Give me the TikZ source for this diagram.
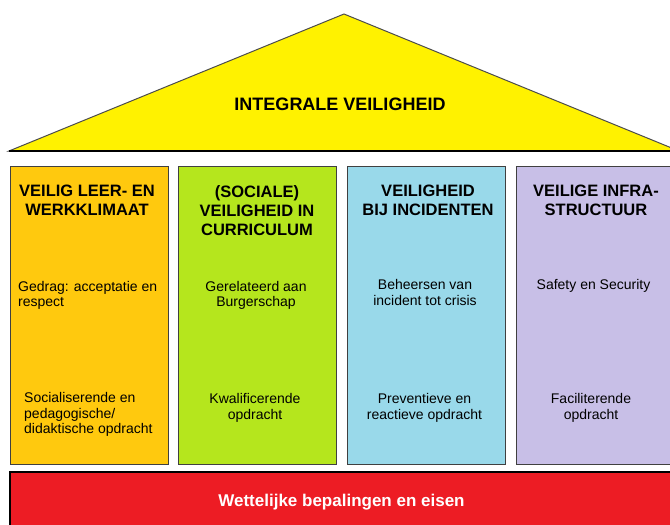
\documentclass[tikz,border=0pt]{standalone}
\usepackage{fontspec}
\setmainfont{Liberation Sans}
\definecolor{dakgeel}{HTML}{FFF200}
\definecolor{oranje}{HTML}{FFC90E}
\definecolor{limoen}{HTML}{B5E61D}
\definecolor{lichtblauw}{HTML}{99D9EA}
\definecolor{lavendel}{HTML}{C8BFE7}
\definecolor{rood}{HTML}{ED1C24}
\begin{document}
\begin{tikzpicture}[x=1pt,y=-1pt,
  pijler/.style={draw=black!75,line width=1pt,minimum width=158pt,minimum height=298pt,inner sep=0pt},
  kop/.style={anchor=north,align=center,inner sep=0pt,font=\bfseries\fontsize{16.5}{19}\selectfont},
  tekst/.style={anchor=north,align=center,inner sep=0pt,font=\fontsize{14}{15.8}\selectfont}]
\useasboundingbox (0,0) rectangle (670,525);
\clip (0,0) rectangle (670,525);
\fill[white] (0,0) rectangle (670,525);
\draw[fill=dakgeel,draw=black!70,line width=1pt] (9,151) -- (344,14) -- (679,151) -- cycle;
\draw[black,line width=1.2pt] (9,151) -- (679,151);
\node[anchor=base,font=\bfseries\fontsize{18}{21}\selectfont] (dak) at (340,110) {INTEGRALE VEILIGHEID};
\node[pijler,fill=oranje] (pijler1) at (89,315) {};
\node[pijler,fill=limoen] (pijler2) at (257.5,315) {};
\node[pijler,fill=lichtblauw] (pijler3) at (426.25,315) {};
\node[pijler,fill=lavendel] (pijler4) at (595.75,315) {};
\draw[fill=rood,draw=black,line width=1.2pt] (10,472) rectangle (676,530);
\node[kop] (kop1) at (87,185) {VEILIG LEER- EN\\WERKKLIMAAT};
\node[kop] (kop2) at (257,185) {(SOCIALE)\\VEILIGHEID IN\\CURRICULUM};
\node[kop] (kop3) at (428,185) {VEILIGHEID\\BIJ INCIDENTEN};
\node[kop] (kop4) at (596,185) {VEILIGE INFRA-\\STRUCTUUR};
\node[tekst,anchor=north west,align=left] (doel1) at (18,280.8) {Gedrag: acceptatie en\\respect};
\node[tekst] (doel2) at (256,280.8) {Gerelateerd aan\\Burgerschap};
\node[tekst] (doel3) at (425,279) {Beheersen van\\incident tot crisis};
\node[tekst] (doel4) at (593.5,279) {Safety en Security};
\node[tekst,anchor=north west,align=left] (opdracht1) at (24,392) {Socialiserende en\\pedagogische/\\didaktische opdracht};
\node[tekst] (opdracht2) at (255,393) {Kwalificerende\\opdracht};
\node[tekst] (opdracht3) at (424.5,393) {Preventieve en\\reactieve opdracht};
\node[tekst] (opdracht4) at (591,393) {Faciliterende\\opdracht};
\node[anchor=base,text=white,font=\bfseries\fontsize{17}{20}\selectfont] (wet) at (341.5,506) {Wettelijke bepalingen en eisen};
\end{tikzpicture}
\end{document}
